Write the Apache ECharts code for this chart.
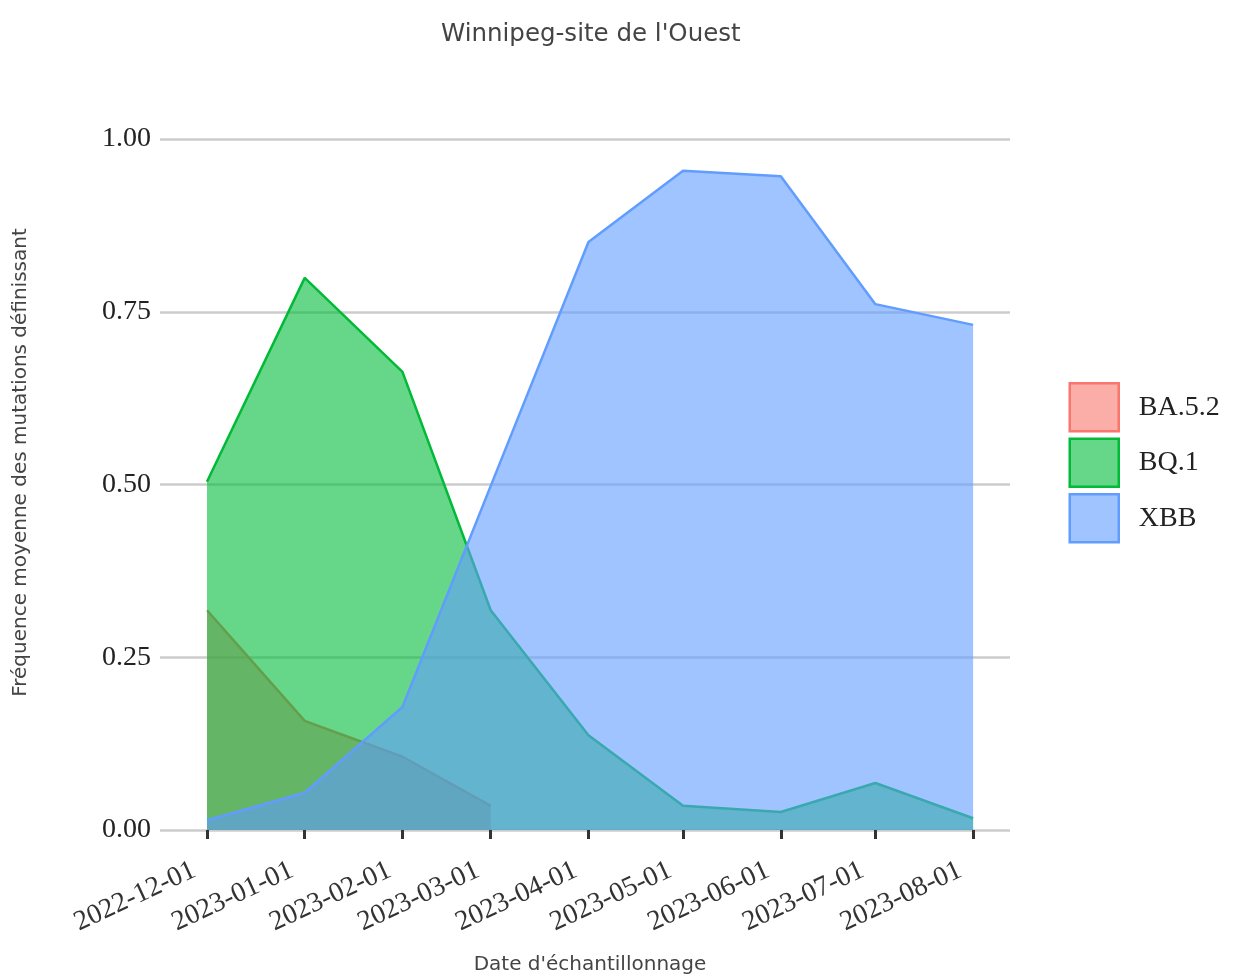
<!DOCTYPE html>
<html>
<head>
<meta charset="utf-8">
<script src="https://cdn.jsdelivr.net/npm/echarts@6/dist/echarts.min.js"></script>
<style>html,body{margin:0;padding:0;background:#fff}#c{width:1237px;height:974px}</style>
</head>
<body>
<div id="c"></div>
<script>
const tickDates = ['2022-12-01','2023-01-01','2023-02-01','2023-03-01','2023-04-01','2023-05-01','2023-06-01','2023-07-01','2023-08-01'];
const ba52Dates = ['2022-12-01','2023-01-01','2023-02-01','2023-03-01'];
const ba52Values = [0.318, 0.158, 0.106, 0.035];
const bq1Dates = tickDates;
const bq1Values = [0.504, 0.799, 0.663, 0.318, 0.137, 0.035, 0.026, 0.068, 0.017];
const xbbDates = tickDates;
const xbbValues = [0.014, 0.054, 0.178, 0.498, 0.851, 0.954, 0.946, 0.761, 0.731];
const yTicks = [0, 0.25, 0.5, 0.75, 1];

const DAY = 86400000;
function ts(s){ const p = s.split('-').map(Number); return Date.UTC(p[0], p[1]-1, p[2]); }
function pad(n){ return (n<10?'0':'')+n; }
function fmt(v){ const d = new Date(v); return d.getUTCFullYear()+'-'+pad(d.getUTCMonth()+1)+'-'+pad(d.getUTCDate()); }
function pairs(ds, vs){ return ds.map((d,i)=>[ts(d), vs[i]]); }
const tickSet = new Set(tickDates.map(ts));

const serif = "'Liberation Serif', 'Times New Roman', serif";
const sans = "'DejaVu Sans', sans-serif";
const cols = {ba:'#F8766D', bq:'#00BA38', xbb:'#619CFF'};
const fills = {ba:'rgba(248,118,109,0.6)', bq:'rgba(0,186,56,0.6)', xbb:'rgba(97,156,255,0.6)'};

const chart = echarts.init(document.getElementById('c'), null, {renderer:'canvas'});
function mk(name, key, data, z){
  return {
    name, type:'line', data, showSymbol:false, symbol:'none', z:z,
    lineStyle:{color:cols[key], width:2.5},
    itemStyle:{color:fills[key], borderColor:cols[key], borderWidth:2.5},
    areaStyle:{color:fills[key], opacity:1},
    emphasis:{disabled:true}, animation:false
  };
}
chart.setOption({
  useUTC:true,
  animation:false,
  title:{text:"Winnipeg-site de l'Ouest", left:441, top:22, padding:0,
    textStyle:{fontFamily:sans, fontSize:24.5, fontWeight:'normal', color:'#444'}},
  legend:{orient:'vertical', left:1068.5, top:382, padding:0, itemWidth:49, itemHeight:48, itemGap:5,
    icon:'rect',
    textStyle:{fontFamily:serif, fontSize:28, color:'#222', padding:[0,0,0,15]},
    data:[
      {name:'BA.5.2', itemStyle:{color:fills.ba, borderColor:cols.ba, borderWidth:2.5}},
      {name:'BQ.1', itemStyle:{color:fills.bq, borderColor:cols.bq, borderWidth:2.5}},
      {name:'XBB', itemStyle:{color:fills.xbb, borderColor:cols.xbb, borderWidth:2.5}}
    ]},
  grid:{left:160, right:227, top:139, bottom:144, containLabel:false, outerBoundsMode:'none'},
  xAxis:{type:'time', min:ts('2022-12-01')-14.9*DAY, max:ts('2023-08-01')+11.7*DAY,
    minInterval:28*DAY, maxInterval:31*DAY, splitNumber:9,
    name:"Date d'échantillonnage", nameLocation:'middle', nameGap:125,
    nameTextStyle:{fontFamily:sans, fontSize:20, color:'#444', padding:[0,0,0,10]},
    axisLine:{show:false},
    axisTick:{show:true, length:9, lineStyle:{color:'#333', width:3}},
    axisLabel:{rotate:25, margin:33, fontFamily:serif, fontSize:28, color:'#333',
      padding:[0,14,0,0],
      showMinLabel:false, showMaxLabel:false, hideOverlap:false,
      formatter:function(v){return tickSet.has(v) ? fmt(v) : '';}},
    splitLine:{show:false}},
  yAxis:{type:'value', min:0, max:1, interval:0.25,
    name:'Fréquence moyenne des mutations définissant', nameLocation:'middle', nameGap:129,
    nameTextStyle:{fontFamily:sans, fontSize:20, color:'#444', padding:[0,0,0,44]},
    axisLine:{show:false}, axisTick:{show:false},
    axisLabel:{margin:9, fontFamily:serif, fontSize:28, color:'#222',
      formatter:function(v){return v.toFixed(2);}},
    splitLine:{show:true, lineStyle:{color:'#cccccc', width:2.5}}},
  series:[
    mk('BA.5.2','ba',pairs(ba52Dates, ba52Values), 2),
    mk('BQ.1','bq',pairs(bq1Dates, bq1Values), 3),
    mk('XBB','xbb',pairs(xbbDates, xbbValues), 4)
  ]
});
</script>
</body>
</html>
